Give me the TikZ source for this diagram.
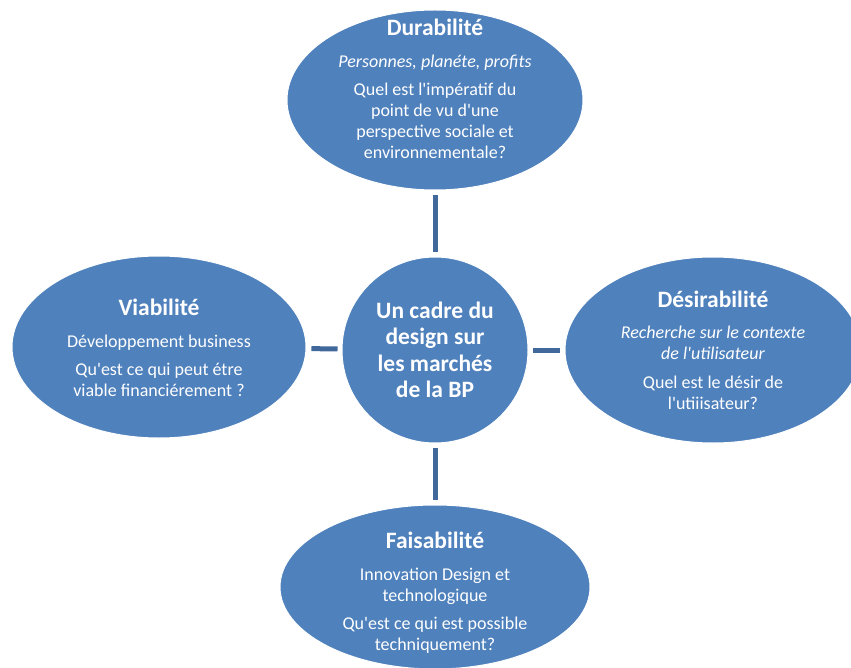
\documentclass[tikz,border=0pt]{standalone}
\usepackage{fontspec}
\newfontfamily\bpfont{Carlito}
\usepackage{xcolor}
\usetikzlibrary{shapes.geometric}

\definecolor{bpblue}{HTML}{4F81BD}
\definecolor{bpline}{HTML}{41689A}
\newcommand{\boxtitle}[1]{{\bfseries\fontsize{23.5}{26.5}\selectfont #1}}

\begin{document}
\begin{tikzpicture}[
    x=1pt, y=-1pt,
    every node/.style={font=\bpfont\fontsize{18}{21}\selectfont, text=white, align=center},
    bubble/.style={ellipse, fill=bpblue, draw=white, line width=1pt, inner sep=0pt},
    hub/.style={circle, fill=bpblue, draw=white, line width=1pt, minimum size=186pt, inner sep=0pt},
    head/.style={font=\bpfont\bfseries\fontsize{23.5}{26.5}\selectfont},
    link/.style={draw=bpline, line width=5pt, shorten <=4pt, shorten >=5pt}
  ]
  \useasboundingbox (0,0) rectangle (851,668);
  \clip (0,0) rectangle (851,668);

  % ── the four bubbles and the hub ─────────────────────────────────────────
  \node[bubble, minimum width=296pt, minimum height=180pt] (dur) at (435,100) {};
  \node[bubble, minimum width=294pt, minimum height=182pt] (via) at (159,347) {};
  \node[bubble, minimum width=296pt, minimum height=186pt] (des) at (713,350) {};
  \node[bubble, minimum width=310pt, minimum height=164pt] (fai) at (435,587) {};
  \node[hub, head] (cen) at (435,350) {Un cadre du\\ design sur\\ les marchés\\ de la BP};

  % ── connectors (they stop short of the shapes) ───────────────────────────
  \draw[link] (cen) -- (dur);
  \draw[link] (cen) -- (via);
  \draw[link] (cen) -- (des);
  \draw[link] (cen) -- (fai);

  % ── texts of the bubbles ─────────────────────────────────────────────────
  \node (durtxt) at (435,89) {\boxtitle{Durabilité}\\[10.5pt]
    \textit{Personnes, planéte, profits}\\[7.5pt]
    Quel est l'impératif du\\ point de vu d'une\\ perspective sociale et\\ environnementale?};
  \node (viatxt) at (159,348) {\boxtitle{Viabilité}\\[10.5pt]
    Développement business\\[7.5pt]
    Qu'est ce qui peut étre\\ viable financiérement ?};
  \node (destxt) at (713,350) {\boxtitle{Désirabilité}\\[10.5pt]
    \textit{Recherche sur le contexte}\\ \textit{de l'utilisateur}\\[7.5pt]
    Quel est le désir de\\ l'utiiisateur?};
  \node (faitxt) at (435,593) {\boxtitle{Faisabilité}\\[10.5pt]
    Innovation Design et\\ technologique\\[7.5pt]
    Qu'est ce qui est possible\\ techniquement?};

\end{tikzpicture}
\end{document}
